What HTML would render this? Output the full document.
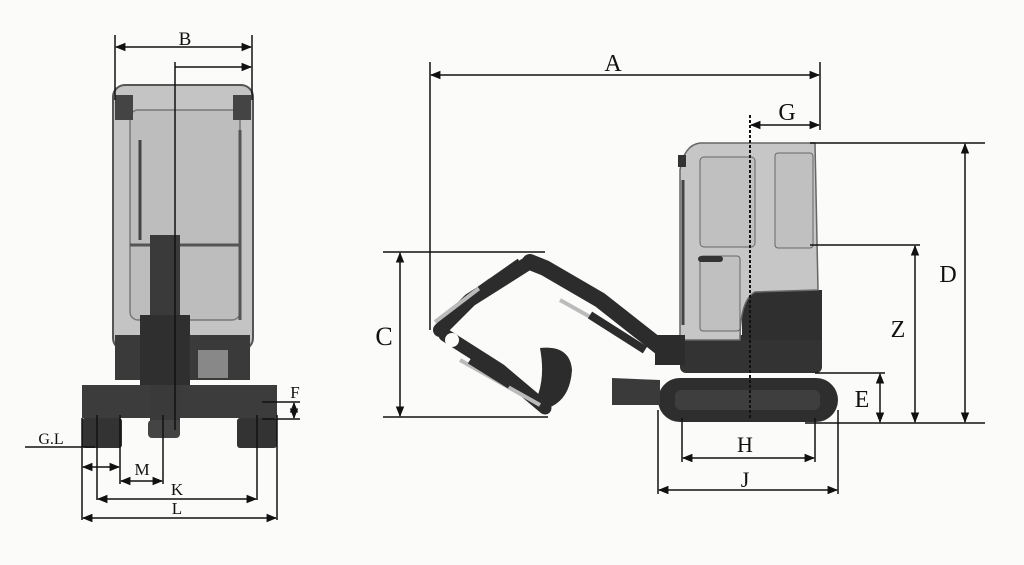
<!DOCTYPE html>
<html><head><meta charset="utf-8"><style>
html,body{margin:0;padding:0;background:#fbfbfa;}
svg{display:block;}
text{font-family:"Liberation Serif",serif;fill:#111;}
</style></head><body>
<svg width="1024" height="565" viewBox="0 0 1024 565" xmlns="http://www.w3.org/2000/svg">
<defs>
<marker id="a" viewBox="0 0 10 10" refX="9" refY="5" markerWidth="7" markerHeight="7" orient="auto-start-reverse"><path d="M0,1 L10,5 L0,9 z" fill="#111"/></marker>
</defs>
<rect width="1024" height="565" fill="#fbfbfa"/>

<!-- FRONT VIEW -->
<rect x="113" y="85" width="140" height="265" rx="12" fill="#c4c4c4" stroke="#555" stroke-width="2"/>
<rect x="130" y="110" width="110" height="210" rx="8" fill="#bdbdbd" stroke="#777" stroke-width="1.5"/>
<line x1="130" y1="245" x2="240" y2="245" stroke="#555" stroke-width="3"/>
<rect x="115" y="95" width="18" height="25" fill="#444"/>
<rect x="233" y="95" width="18" height="25" fill="#444"/>
<line x1="140" y1="140" x2="140" y2="240" stroke="#444" stroke-width="3"/>
<line x1="240" y1="130" x2="240" y2="320" stroke="#555" stroke-width="3"/>
<rect x="115" y="335" width="135" height="45" fill="#3a3a3a"/>
<rect x="198" y="350" width="30" height="28" fill="#888"/>
<rect x="82" y="385" width="195" height="33" fill="#3c3c3c"/>
<rect x="82" y="418" width="40" height="30" rx="3" fill="#333"/>
<rect x="237" y="418" width="40" height="30" rx="3" fill="#333"/>
<rect x="150" y="235" width="30" height="200" fill="#3a3a3a"/>
<rect x="140" y="315" width="50" height="70" fill="#2f2f2f"/>
<rect x="148" y="420" width="32" height="18" rx="4" fill="#444"/>

<g stroke="#111" stroke-width="1.5" fill="none">
<line x1="115" y1="35" x2="115" y2="100"/><line x1="252" y1="35" x2="252" y2="100"/>
<line x1="116" y1="47" x2="251" y2="47" marker-start="url(#a)" marker-end="url(#a)"/>
<line x1="175" y1="67" x2="251" y2="67" marker-end="url(#a)"/>
<line x1="175" y1="62" x2="175" y2="430"/>
<line x1="25" y1="447" x2="95" y2="447"/>
<line x1="82" y1="418" x2="82" y2="520"/><line x1="97" y1="415" x2="97" y2="500"/>
<line x1="120" y1="415" x2="120" y2="484"/><line x1="163" y1="415" x2="163" y2="484"/>
<line x1="257" y1="415" x2="257" y2="500"/><line x1="277" y1="415" x2="277" y2="520"/>
<line x1="83" y1="467" x2="119" y2="467" marker-start="url(#a)" marker-end="url(#a)"/>
<line x1="121" y1="481" x2="162" y2="481" marker-start="url(#a)" marker-end="url(#a)"/>
<line x1="98" y1="499" x2="256" y2="499" marker-start="url(#a)" marker-end="url(#a)"/>
<line x1="83" y1="518" x2="276" y2="518" marker-start="url(#a)" marker-end="url(#a)"/>
<line x1="262" y1="402" x2="300" y2="402"/><line x1="262" y1="419" x2="300" y2="419"/>
<line x1="294" y1="403" x2="294" y2="418" marker-start="url(#a)" marker-end="url(#a)"/>
</g>
<text x="185" y="45" font-size="19" text-anchor="middle">B</text>
<text x="51" y="444" font-size="16" text-anchor="middle">G.L</text>
<text x="142" y="475" font-size="17" text-anchor="middle">M</text>
<text x="177" y="495" font-size="17" text-anchor="middle">K</text>
<text x="177" y="514" font-size="17" text-anchor="middle">L</text>
<text x="295" y="398" font-size="17" text-anchor="middle">F</text>

<!-- SIDE VIEW -->
<!-- track -->
<rect x="658" y="378" width="180" height="44" rx="22" fill="#2e2e2e"/>
<rect x="675" y="390" width="145" height="20" rx="6" fill="#3e3e3e"/>
<!-- blade -->
<path d="M612,378 L660,380 L660,405 L612,405 Z" fill="#3a3a3a"/>
<!-- lower body -->
<rect x="680" y="335" width="142" height="38" rx="6" fill="#333"/>
<rect x="742" y="290" width="80" height="50" fill="#2f2f2f"/>
<!-- cab -->
<path d="M700,143 L815,143 L818,290 L755,292 Q740,300 740,340 L680,340 L680,170 Q684,145 700,143 Z" fill="#c6c6c6" stroke="#666" stroke-width="1.5"/>
<rect x="700" y="157" width="55" height="90" rx="4" fill="#c0c0c0" stroke="#666"/>
<rect x="775" y="153" width="38" height="95" rx="3" fill="#c0c0c0" stroke="#666"/>
<rect x="700" y="256" width="40" height="75" rx="3" fill="#c0c0c0" stroke="#666"/>
<rect x="698" y="256" width="25" height="6" rx="3" fill="#333"/>
<line x1="683" y1="180" x2="683" y2="325" stroke="#444" stroke-width="3"/>
<rect x="678" y="155" width="8" height="12" fill="#333"/>
<!-- boom / arm -->
<g stroke="#2c2c2c" stroke-linecap="round" stroke-linejoin="round" fill="none">
<polyline points="670,355 600,300 545,268 530,262" stroke-width="16"/>
<polyline points="530,262 470,300 440,330" stroke-width="14"/>
<polyline points="445,335 500,370 545,408" stroke-width="13"/>
</g>
<g stroke="#bbb" stroke-width="4" fill="none">
<line x1="435" y1="322" x2="490" y2="280"/>
<line x1="460" y1="360" x2="540" y2="405"/>
<line x1="560" y1="300" x2="640" y2="345"/>
</g>
<g stroke="#2c2c2c" stroke-width="8" fill="none">
<line x1="480" y1="290" x2="520" y2="262"/>
<line x1="470" y1="360" x2="510" y2="385"/>
<line x1="590" y1="315" x2="645" y2="350"/>
</g>
<circle cx="452" cy="340" r="7" fill="#fbfbfa"/>
<rect x="655" y="335" width="30" height="30" fill="#2c2c2c"/>
<path d="M540,348 Q570,345 572,370 Q570,400 548,408 L538,395 Q545,375 540,348 Z" fill="#2c2c2c"/>

<g stroke="#111" stroke-width="1.5" fill="none">
<line x1="430" y1="62" x2="430" y2="330"/><line x1="820" y1="62" x2="820" y2="130"/>
<line x1="431" y1="75" x2="819" y2="75" marker-start="url(#a)" marker-end="url(#a)"/>
<line x1="751" y1="125" x2="819" y2="125" marker-start="url(#a)" marker-end="url(#a)"/>
<line x1="750" y1="115" x2="750" y2="420" stroke-dasharray="3,2" stroke-width="2"/>
<line x1="810" y1="143" x2="985" y2="143"/>
<line x1="965" y1="144" x2="965" y2="422" marker-start="url(#a)" marker-end="url(#a)"/>
<line x1="810" y1="245" x2="920" y2="245"/>
<line x1="915" y1="246" x2="915" y2="422" marker-start="url(#a)" marker-end="url(#a)"/>
<line x1="805" y1="423" x2="985" y2="423"/>
<line x1="815" y1="373" x2="885" y2="373"/>
<line x1="880" y1="374" x2="880" y2="422" marker-start="url(#a)" marker-end="url(#a)"/>
<line x1="383" y1="252" x2="545" y2="252"/><line x1="383" y1="417" x2="548" y2="417"/>
<line x1="400" y1="253" x2="400" y2="416" marker-start="url(#a)" marker-end="url(#a)"/>
<line x1="682" y1="418" x2="682" y2="462"/><line x1="815" y1="418" x2="815" y2="462"/>
<line x1="683" y1="458" x2="814" y2="458" marker-start="url(#a)" marker-end="url(#a)"/>
<line x1="658" y1="410" x2="658" y2="494"/><line x1="838" y1="410" x2="838" y2="494"/>
<line x1="659" y1="490" x2="837" y2="490" marker-start="url(#a)" marker-end="url(#a)"/>
</g>
<text x="613" y="71" font-size="24" text-anchor="middle">A</text>
<text x="787" y="120" font-size="24" text-anchor="middle">G</text>
<text x="948" y="282" font-size="24" text-anchor="middle">D</text>
<text x="898" y="337" font-size="24" text-anchor="middle">Z</text>
<text x="862" y="407" font-size="24" text-anchor="middle">E</text>
<text x="384" y="345" font-size="26" text-anchor="middle">C</text>
<text x="745" y="452" font-size="22" text-anchor="middle">H</text>
<text x="745" y="487" font-size="22" text-anchor="middle">J</text>
</svg>
</body></html>
